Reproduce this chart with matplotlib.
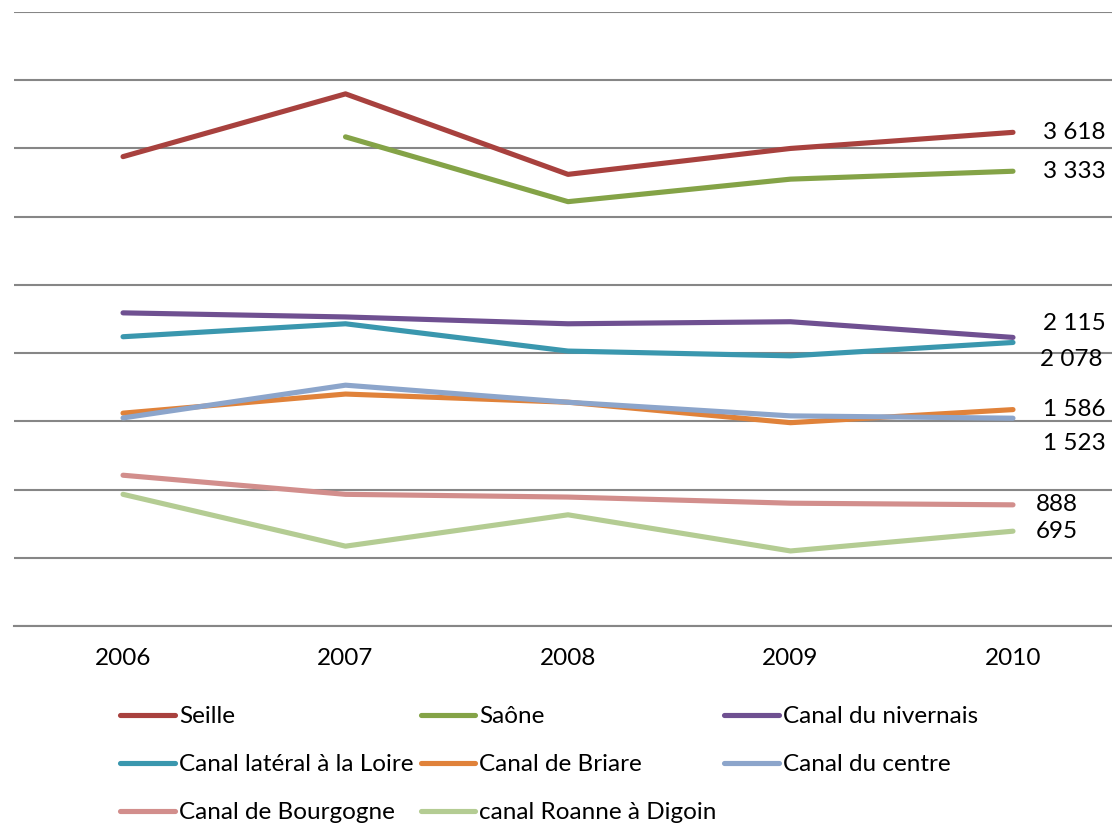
import numpy as np
import matplotlib
matplotlib.use('Agg')
import matplotlib.pyplot as plt

plt.rcParams['font.family'] = ['Lato', 'DejaVu Sans']

years = ['2006', '2007', '2008', '2009', '2010']

seille = [3440, 3900, 3310, 3500, 3618]
saone = [np.nan, 3585, 3110, 3275, 3333]
nivernais = [2295, 2265, 2215, 2230, 2115]
laterale = [2120, 2215, 2015, 1980, 2078]
briare = [1560, 1700, 1640, 1490, 1586]
centre = [1525, 1765, 1640, 1540, 1523]
bourgogne = [1105, 965, 945, 900, 888]
roanne = [965, 585, 815, 550, 695]

names = ['Seille', 'Saône', 'Canal du nivernais', 'Canal latéral à la Loire',
         'Canal de Briare', 'Canal du centre', 'Canal de Bourgogne', 'canal Roanne à Digoin']
series = [seille, saone, nivernais, laterale, briare, centre, bourgogne, roanne]
colors = ['#A8413E', '#84A347', '#6F5091', '#3A97AE',
          '#E0823A', '#8CA5CB', '#D28E8C', '#B4CC93']

# label offsets (pixels) for the 2010 values, to keep them from overlapping
label_dx = [30, 30, 30, 27, 30, 30, 23, 23]
label_dy = [0, 0, 14, -17, 0, -25, 0, 0]

W, H = 1112, 826
fig = plt.figure(figsize=(W / 100, H / 100), dpi=100)
ax = fig.add_axes([14 / W, 1 - 626 / H, (W - 14) / W, (626 - 12) / H])

x = np.arange(len(years))
handles = []
for name, vals, col, dx, dy in zip(names, series, colors, label_dx, label_dy):
    h, = ax.plot(x, vals, color=col, lw=3.7, solid_capstyle='round',
                 solid_joinstyle='round', label=name, zorder=3)
    handles.append(h)
    last = vals[-1]
    txt = '{:,}'.format(last).replace(',', ' ')
    ax.annotate(txt, (x[-1], last), xytext=(dx, dy), textcoords='offset pixels',
                ha='left', va='center', fontsize=17.5, color='black')

ax.set_ylim(0, 4500)
ax.set_yticks(np.arange(0, 4501, 500))
ax.set_xlim(-0.49, 4.445)
ax.set_xticks(x)
ax.set_xticklabels(years, fontsize=17.5)
ax.tick_params(axis='x', length=0, pad=16)
ax.tick_params(axis='y', length=0, labelleft=False)
ax.grid(axis='y', color='#868686', lw=1.5)
ax.set_axisbelow(True)
for sp in ['top', 'right', 'left']:
    ax.spines[sp].set_visible(False)
ax.spines['bottom'].set_color('#868686')
ax.spines['bottom'].set_linewidth(1.5)

order = [0, 3, 6, 1, 4, 7, 2, 5]
leg = fig.legend([handles[i] for i in order], [names[i] for i in order],
                 ncol=3, loc='upper left', bbox_to_anchor=(120 / W, 1 - 706 / H),
                 frameon=False, fontsize=17.5, handlelength=2.25, handletextpad=0.17,
                 columnspacing=0.3, labelspacing=1.12, borderpad=0, borderaxespad=0)

fig.savefig('out.png', dpi=100)
